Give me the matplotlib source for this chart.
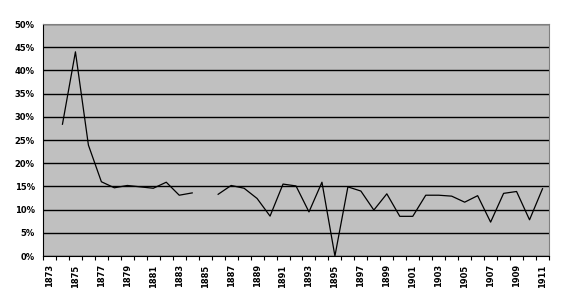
import matplotlib
matplotlib.use("Agg")
import matplotlib.pyplot as plt
import numpy as np

years = list(range(1873, 1912))
values = [np.nan, 28.4, 44.0, 23.9, 16.0, 14.7, 15.2, 14.9, 14.6, 15.9,
          13.1, 13.6, np.nan, 13.3, 15.2, 14.6, 12.4, 8.6, 15.5, 15.1,
          9.5, 15.9, 0.0, 14.9, 14.0, 9.9, 13.4, 8.55, 8.55, 13.1,
          13.1, 12.9, 11.6, 13.0, 7.3, 13.5, 13.9, 7.8, 14.5]
y_ticks = [0, 5, 10, 15, 20, 25, 30, 35, 40, 45, 50]

fig = plt.figure(figsize=(5.64, 3.05), dpi=100)
ax = fig.add_axes([43/564, 49/305, 506/564, 232/305])
ax.set_facecolor("#C0C0C0")

x = np.arange(len(years))
ax.plot(x, values, color="black", lw=0.9)

ax.set_xlim(-0.5, len(years) - 0.5)
ax.set_ylim(0, 50)
ax.set_yticks(y_ticks)
ax.set_yticklabels([f"{v}%" for v in y_ticks], fontsize=6, fontweight="bold")
ax.yaxis.grid(True, color="black", lw=1)
ax.set_axisbelow(True)
ax.tick_params(axis="y", length=0, pad=6)

ax.set_xticks(x[::2])
ax.set_xticklabels([str(y) for y in years[::2]], rotation=90, fontsize=6,
                   fontweight="bold")
ax.set_xticks(np.arange(-0.5, len(years), 1), minor=True)
ax.tick_params(axis="x", which="major", length=0, pad=6)
ax.tick_params(axis="x", which="minor", length=3, width=0.8, color="black")

for s in ["top", "right"]:
    ax.spines[s].set_color("#808080")
for s in ["left", "bottom"]:
    ax.spines[s].set_color("black")

fig.savefig("out.png", dpi=100)
